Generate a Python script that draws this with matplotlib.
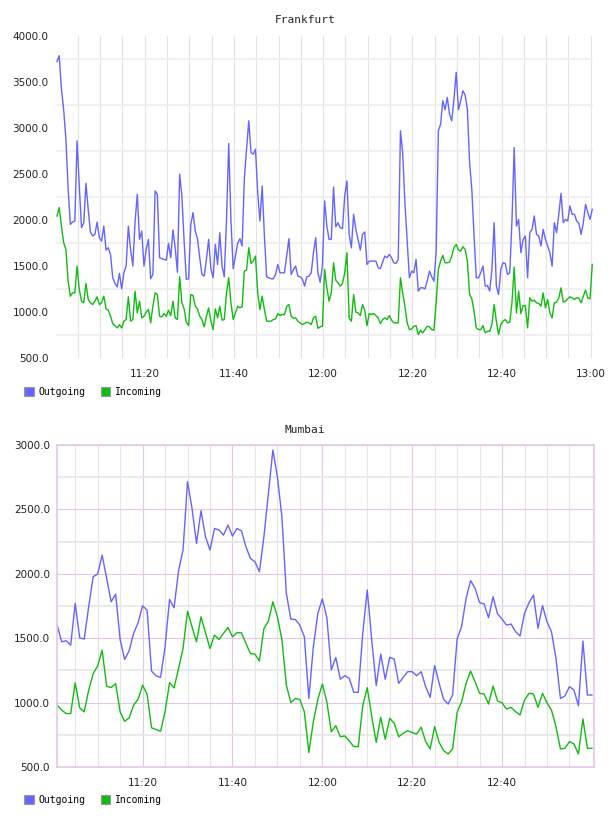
import numpy as np
import pandas as pd
import matplotlib
matplotlib.use('Agg')
import matplotlib.pyplot as plt
import matplotlib.dates as mdates
from matplotlib.patches import Patch

# Frankfurt: one sample every 30 s from 11:00:20
fra_start = '2014-01-01 11:00:20'
fra_out = [3721, 3786, 3423, 3198, 2879, 2334, 1953, 1978, 1989, 2860, 2370, 1916, 1971, 2399, 2116,
           1869, 1826, 1844, 1978, 1807, 1771, 1935, 1673, 1698, 1626, 1372, 1310, 1274, 1419, 1252,
           1426, 1499, 1934, 1680, 1499, 1978, 2279, 1789, 1880, 1499, 1680, 1789, 1361, 1408, 2316,
           2279, 1590, 1579, 1571, 1564, 1746, 1590, 1891, 1698, 1433, 2497, 2261, 1771, 1354, 1361,
           1953, 2080, 1880, 1797, 1590, 1408, 1390, 1571, 1789, 1470, 1372, 1735, 1517, 1862, 1499,
           1383, 1997, 2831, 1997, 1470, 1608, 1746, 1797, 1717, 2443, 2770, 3078, 2733, 2715, 2770,
           2298, 1989, 2370, 1826, 1383, 1372, 1361, 1361, 1408, 1517, 1426, 1426, 1426, 1608, 1797,
           1408, 1462, 1499, 1390, 1383, 1361, 1281, 1383, 1390, 1426, 1644, 1807, 1426, 1324, 1499,
           2207, 1934, 1789, 1789, 2359, 1927, 1971, 1916, 1906, 2261, 2425, 1844, 1698, 2062, 1898,
           1789, 1673, 1844, 1869, 1517, 1553, 1553, 1553, 1553, 1481, 1470, 1542, 1608, 1590, 1626,
           1590, 1535, 1528, 1571, 2969, 2733, 2189, 1789, 1372, 1444, 1426, 1571, 1227, 1263, 1263,
           1252, 1336, 1444, 1383, 1336, 1644, 2969, 3042, 3296, 3198, 3332, 3151, 3078, 3314, 3605,
           3198, 3296, 3405, 3358, 3205, 2624, 2334, 1826, 1372, 1372, 1426, 1499, 1281, 1288, 1227,
           1462, 1971, 1281, 1190, 1462, 1535, 1528, 1408, 1426, 1989, 2788, 1934, 2007, 1644, 1789,
           1826, 1372, 1862, 1898, 2043, 1844, 1826, 1717, 1898, 1789, 1717, 1644, 1499, 1971, 1862,
           2062, 2290, 1971, 2007, 1989, 2153, 2062, 2062, 1989, 1964, 1844, 1971, 2170, 2080, 2007,
           2116]
fra_in = [2043, 2134, 1934, 1753, 1680, 1335, 1172, 1208, 1208, 1499, 1245, 1118, 1100, 1310, 1136,
          1100, 1081, 1118, 1165, 1081, 1100, 1172, 1034, 1019, 954, 874, 852, 827, 863, 827,
          900, 918, 1165, 900, 918, 1226, 990, 1118, 936, 954, 998, 1027, 882, 1063, 1208,
          1190, 954, 947, 983, 954, 1019, 961, 1118, 936, 918, 1383, 1100, 1034, 889, 852,
          1190, 1179, 1063, 1034, 954, 918, 838, 954, 1045, 900, 809, 1034, 936, 1063, 911,
          918, 1208, 1372, 1100, 918, 990, 1063, 1045, 1056, 1444, 1455, 1699, 1528, 1553, 1608,
          1208, 1027, 1172, 1027, 900, 900, 900, 918, 925, 983, 961, 976, 969, 1063, 1081,
          954, 932, 936, 900, 882, 863, 874, 889, 882, 863, 936, 954, 823, 838, 845,
          1463, 1263, 1118, 1208, 1535, 1346, 1317, 1281, 1310, 1426, 1644, 936, 900, 1190, 998,
          990, 961, 1081, 1019, 852, 983, 972, 983, 961, 936, 874, 918, 936, 918, 961,
          911, 882, 882, 882, 1372, 1208, 1063, 882, 809, 816, 845, 852, 754, 802, 773,
          809, 845, 838, 809, 802, 1100, 1463, 1553, 1615, 1535, 1535, 1542, 1608, 1699, 1735,
          1673, 1662, 1709, 1680, 1553, 1190, 1143, 1009, 827, 809, 809, 852, 773, 791, 791,
          863, 1081, 900, 754, 863, 900, 918, 882, 889, 1100, 1488, 990, 1227, 983, 1070,
          1070, 827, 1154, 1118, 1128, 1100, 1092, 1063, 1208, 1045, 1136, 990, 936, 1100, 1107,
          1154, 1263, 1107, 1118, 1143, 1165, 1154, 1136, 1154, 1150, 1100, 1172, 1237, 1154, 1143,
          1517]

# Mumbai: one sample per minute from 11:01
mum_start = '2014-01-01 11:01:00'
mum_out = [1601, 1472, 1480, 1446, 1770, 1503, 1493, 1744, 1977, 1998, 2145, 1964, 1783, 1842, 1490,
           1335, 1402, 1537, 1620, 1752, 1718, 1244, 1208, 1195, 1433, 1801, 1736, 2024, 2184, 2715,
           2508, 2236, 2490, 2288, 2184, 2352, 2340, 2300, 2378, 2293, 2352, 2334, 2210, 2119, 2094,
           2016, 2288, 2624, 2961, 2754, 2443, 1847, 1648, 1645, 1601, 1511, 1032, 1433, 1692, 1805,
           1662, 1253, 1351, 1181, 1209, 1188, 1080, 1080, 1538, 1874, 1486, 1131, 1377, 1181, 1351,
           1338, 1150, 1196, 1240, 1240, 1209, 1240, 1124, 1041, 1287, 1150, 1025, 989, 1059, 1494,
           1590, 1809, 1947, 1887, 1776, 1766, 1659, 1822, 1688, 1649, 1602, 1610, 1551, 1517, 1693,
           1776, 1835, 1577, 1753, 1628, 1551, 1344, 1033, 1051, 1124, 1098, 976, 1478, 1059, 1059]
mum_in = [980, 941, 915, 915, 1153, 959, 928, 1096, 1226, 1285, 1407, 1127, 1117, 1148, 928,
          855, 881, 980, 1026, 1135, 1065, 804, 791, 778, 928, 1156, 1114, 1265, 1420, 1710,
          1588, 1472, 1666, 1542, 1420, 1524, 1490, 1537, 1583, 1511, 1544, 1542, 1459, 1381, 1376,
          1324, 1575, 1632, 1783, 1666, 1490, 1135, 1000, 1032, 1024, 928, 612, 850, 1024, 1144,
          1007, 774, 821, 735, 741, 702, 658, 658, 976, 1116, 891, 691, 886, 715, 878,
          839, 735, 761, 782, 767, 756, 808, 697, 640, 813, 691, 627, 601, 640, 924,
          1007, 1150, 1245, 1162, 1072, 1067, 989, 1129, 1012, 999, 950, 963, 930, 904, 1020,
          1072, 1067, 963, 1072, 999, 942, 813, 640, 645, 697, 679, 601, 873, 645, 645]

BLUE = '#6464ff'
GREEN = '#11bb11'
W, H = 608, 816
DAY = '2014-01-01 '

fig = plt.figure(figsize=(W / 100, H / 100), dpi=100)


def px_axes(left, top, right, bottom):
    return fig.add_axes([left / W, 1 - bottom / H, (right - left) / W, (bottom - top) / H])


def tnum(s):
    return mdates.date2num(pd.Timestamp(DAY + s))


def hhmm(x, pos=None):
    return mdates.num2date(x).strftime('%H:%M')


def style(ax, y0, y1, x0, x1, majors, minor_end, major_col, minor_col, hmaj, hmin, frame):
    ax.set_ylim(y0, y1)
    ax.set_xlim(tnum(x0), tnum(x1))
    ax.set_yticks(np.arange(y0, y1 + 1, 500))
    ax.set_yticks(np.arange(y0 + 250, y1, 500), minor=True)
    ax.yaxis.set_major_formatter(plt.FuncFormatter(lambda v, p: f'{v:.1f}'))
    ax.set_xticks([tnum(h) for h in majors])
    minors = pd.date_range(DAY + '11:05', DAY + minor_end, freq='5min')
    ax.set_xticks(mdates.date2num(minors), minor=True)
    ax.xaxis.set_major_formatter(plt.FuncFormatter(hhmm))
    ax.tick_params(which='both', length=0)
    ax.tick_params(axis='y', pad=5, labelsize=7.5, labelcolor='#222222')
    ax.tick_params(axis='x', pad=8, labelsize=7.5, labelcolor='#222222')
    ax.grid(True, axis='x', which='minor', color=minor_col, lw=0.8)
    ax.grid(True, axis='x', which='major', color=major_col, lw=0.8)
    ax.grid(True, axis='y', which='minor', color=hmin, lw=1.2)
    if hmaj:
        ax.grid(True, axis='y', which='major', color=hmaj, lw=0.8)
    ax.set_axisbelow(True)
    for s in ax.spines.values():
        s.set_visible(frame)
        s.set_color('#e2c8e2')
        s.set_linewidth(1.2)


def legend(x, y):
    handles = [Patch(facecolor=BLUE, edgecolor='#999999', lw=0.8, label='Outgoing'),
               Patch(facecolor=GREEN, edgecolor='#999999', lw=0.8, label='Incoming')]
    fig.legend(handles=handles, loc='center left', bbox_to_anchor=(x / W, 1 - y / H), ncol=2,
               frameon=False, borderpad=0, borderaxespad=0, handlelength=1.0, handleheight=1.0,
               handletextpad=0.45, columnspacing=1.6, prop={'family': 'DejaVu Sans Mono', 'size': 7})


# Frankfurt
ax1 = px_axes(55.5, 36, 593, 358)
t1 = pd.date_range(fra_start, periods=len(fra_out), freq='30s')
ax1.plot(t1, fra_out, color=BLUE, lw=1.0)
ax1.plot(t1, fra_in, color=GREEN, lw=1.0)
style(ax1, 500, 4000, '11:00:00', '13:00:30',
      ['11:20', '11:40', '12:00', '12:20', '12:40', '13:00'], '13:00',
      '#e4e4e4', '#e4e4e4', None, '#eeeeee', False)
fig.text(305 / W, 1 - 20 / H, 'Frankfurt', ha='center', va='center',
         family='DejaVu Sans Mono', fontsize=8, color='#222222')
legend(24, 392)

# Mumbai
ax2 = px_axes(57, 445, 594, 767)
t2 = pd.date_range(mum_start, periods=len(mum_out), freq='60s')
ax2.plot(t2, mum_out, color=BLUE, lw=1.0)
ax2.plot(t2, mum_in, color=GREEN, lw=1.0)
style(ax2, 500, 3000, '11:00:57', '13:00:28',
      ['11:20', '11:40', '12:00', '12:20', '12:40'], '12:55',
      '#e2c8e2', '#e6e6e6', '#e2c8e2', '#e6e6e6', True)
fig.text(305 / W, 1 - 430 / H, 'Mumbai', ha='center', va='center',
         family='DejaVu Sans Mono', fontsize=8, color='#222222')
legend(24, 800)

fig.savefig('out.png', dpi=100)
